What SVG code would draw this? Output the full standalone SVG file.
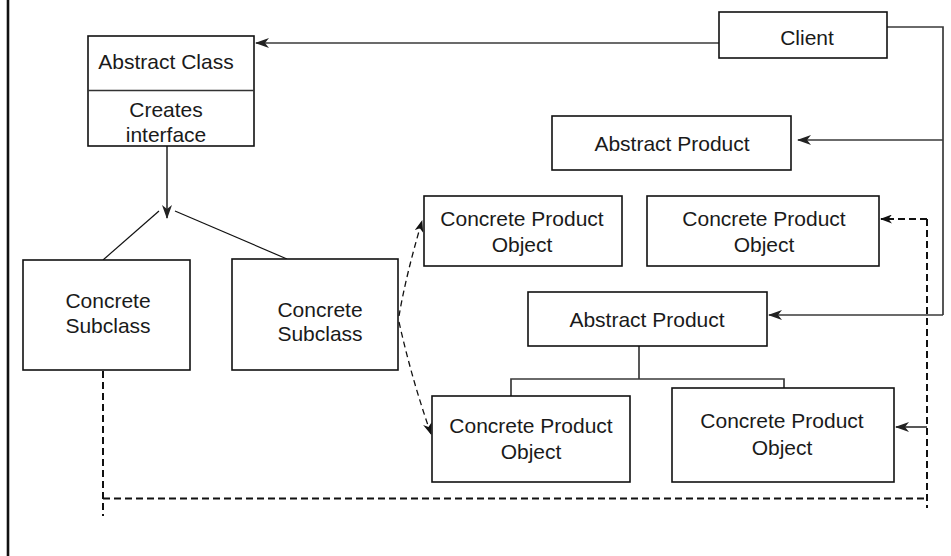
<svg xmlns="http://www.w3.org/2000/svg" width="951" height="556" viewBox="0 0 951 556">
  <defs>
    <style>
      .box { fill: #ffffff; stroke: #111111; stroke-width: 1.6; }
      .lbl { font-family: "Liberation Sans", Arial, Helvetica, sans-serif; font-size: 21px; fill: #1a1a1a; text-anchor: middle; }
      .solid { fill: none; stroke: #3a3a3a; stroke-width: 1.7; }
      .thin { fill: none; stroke: #111111; stroke-width: 1.2; }
      .dash { fill: none; stroke: #111111; stroke-width: 1.3; stroke-dasharray: 6 4; }
      .dashb { fill: none; stroke: #111111; stroke-width: 2; stroke-dasharray: 7 4; }
    </style>
    <marker id="arr" viewBox="0 0 14 10" refX="13" refY="5" markerWidth="14" markerHeight="10" markerUnits="userSpaceOnUse" orient="auto">
      <path d="M0,0 L14,5 L0,10 L4,5 z" fill="#222222"/>
    </marker>
    <marker id="arrd" viewBox="0 0 12 9" refX="11" refY="4.5" markerWidth="12" markerHeight="9" markerUnits="userSpaceOnUse" orient="auto">
      <path d="M0,0 L12,4.5 L0,9 L3.5,4.5 z" fill="#111111"/>
    </marker>
  </defs>

  <!-- frame edge -->
  <line x1="8" y1="0" x2="8" y2="556" stroke="#111111" stroke-width="2.6"/>

  <g id="connectors">
    <!-- Client to Abstract Class -->
    <line class="solid" x1="719" y1="43" x2="256" y2="43" marker-end="url(#arr)"/>
    <!-- Client bus on the right -->
    <polyline class="solid" points="887,27 943,27 943,315"/>
    <line class="solid" x1="943" y1="140" x2="798" y2="140" marker-end="url(#arr)"/>
    <line class="solid" x1="943" y1="315" x2="769" y2="315" marker-end="url(#arr)"/>
    <!-- Abstract Class to subclass fork -->
    <line class="solid" x1="167" y1="146" x2="167" y2="218" marker-end="url(#arr)"/>
    <line class="thin" x1="159" y1="211" x2="103" y2="260"/>
    <line class="thin" x1="175" y1="211" x2="287" y2="259"/>
    <!-- subclass creates products -->
    <path class="dash" d="M399,316 Q406,275 422,221" marker-end="url(#arrd)"/>
    <path class="dash" d="M399,322 Q412,380 431,434" marker-end="url(#arrd)"/>
    <!-- lower Abstract Product hierarchy -->
    <polyline class="solid" points="639,346 639,379"/>
    <polyline class="solid" points="511,396 511,379 784,379 784,388"/>
    <!-- dashed loop from left subclass -->
    <line class="dashb" x1="103" y1="371" x2="103" y2="516"/>
    <line class="dashb" x1="103" y1="498.5" x2="927" y2="498.5"/>
    <line class="dashb" x1="927" y1="219" x2="927" y2="508"/>
    <line class="dashb" x1="927" y1="219" x2="881" y2="219" marker-end="url(#arrd)"/>
    <line class="solid" x1="927" y1="427" x2="896" y2="427" marker-end="url(#arr)"/>
  </g>

  <g id="abstract-class">
    <rect class="box" x="88" y="36" width="166" height="110"/>
    <line x1="88" y1="90.5" x2="254" y2="90.5" stroke="#333333" stroke-width="1.6"/>
    <text class="lbl" x="166" y="69">Abstract Class</text>
    <text class="lbl" x="166" y="117">Creates</text>
    <text class="lbl" x="166" y="142">interface</text>
  </g>

  <g id="client">
    <rect class="box" x="719" y="12" width="168" height="46"/>
    <text class="lbl" x="807" y="45">Client</text>
  </g>

  <g id="abstract-product-a">
    <rect class="box" x="552" y="116" width="239" height="54"/>
    <text class="lbl" x="672" y="151">Abstract Product</text>
  </g>

  <g id="product-a1">
    <rect class="box" x="424" y="196" width="198" height="70"/>
    <text class="lbl" x="522" y="226">Concrete Product</text>
    <text class="lbl" x="522" y="252">Object</text>
  </g>

  <g id="product-a2">
    <rect class="box" x="647" y="196" width="232" height="70"/>
    <text class="lbl" x="764" y="226">Concrete Product</text>
    <text class="lbl" x="764" y="252">Object</text>
  </g>

  <g id="abstract-product-b">
    <rect class="box" x="528" y="292" width="239" height="54"/>
    <text class="lbl" x="647" y="327">Abstract Product</text>
  </g>

  <g id="subclass-left">
    <rect class="box" x="23" y="260" width="167" height="110"/>
    <text class="lbl" x="108" y="308">Concrete</text>
    <text class="lbl" x="108" y="333">Subclass</text>
  </g>

  <g id="subclass-right">
    <rect class="box" x="232" y="259" width="166" height="111"/>
    <text class="lbl" x="320" y="317">Concrete</text>
    <text class="lbl" x="320" y="341">Subclass</text>
  </g>

  <g id="product-b1">
    <rect class="box" x="432" y="396" width="198" height="86"/>
    <text class="lbl" x="531" y="433">Concrete Product</text>
    <text class="lbl" x="531" y="459">Object</text>
  </g>

  <g id="product-b2">
    <rect class="box" x="672" y="388" width="222" height="94"/>
    <text class="lbl" x="782" y="428">Concrete Product</text>
    <text class="lbl" x="782" y="455">Object</text>
  </g>
</svg>
